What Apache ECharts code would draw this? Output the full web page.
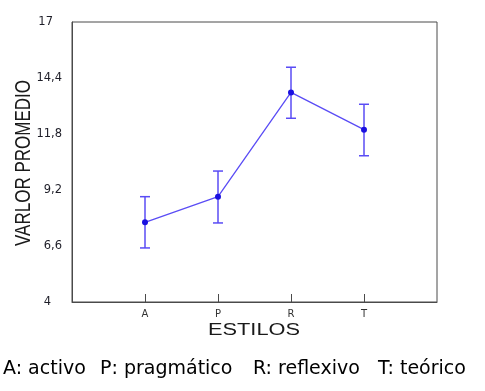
<!DOCTYPE html>
<html>
<head>
<meta charset="utf-8">
<script src="https://cdn.jsdelivr.net/npm/echarts@6/dist/echarts.min.js"></script>
<style>html,body{margin:0;padding:0;background:#fff}#c{width:485px;height:391px}</style>
</head>
<body>
<div id="c"></div>
<script>
const categories = ['A', 'P', 'R', 'T'];
const means = [7.70, 8.89, 13.73, 12.00];
const lower = [6.51, 7.67, 12.53, 10.79];
const upper = [8.89, 10.08, 14.90, 13.18];
const yTicks = [4, 6.6, 9.2, 11.8, 14.4, 17];
const legendItems = ['A: activo', 'P: pragmático', 'R: reflexivo', 'T: teórico'];
const legendX = [3, 100, 253, 378];

const padded = [''].concat(categories).concat(['']);
const lineData = ['-'].concat(means).concat(['-']);
const errData = categories.map((c, i) => [i + 1, lower[i], upper[i]]);

const lineColor = '#5a4cf5';
const axisColor = '#4a4a4a';

const chart = echarts.init(document.getElementById('c'), null, {renderer: 'canvas'});
chart.setOption({
  animation: false,
  grid: {left: 72, right: 48, top: 22, bottom: 89, show: true, borderColor: axisColor, borderWidth: 1, backgroundColor: 'transparent'},
  xAxis: {
    type: 'category',
    data: padded,
    boundaryGap: false,
    axisLine: {lineStyle: {color: axisColor, width: 1}},
    axisTick: {inside: true, length: 8, lineStyle: {color: axisColor}, interval: (i, v) => v !== ''},
    axisLabel: {fontFamily: 'DejaVu Sans', fontSize: 10, color: '#333', margin: 7, interval: (i, v) => v !== ''},
    splitLine: {show: false}
  },
  yAxis: {
    type: 'value',
    min: 4, max: 17,
    axisLine: {show: true, lineStyle: {color: axisColor, width: 1}},
    axisTick: {inside: true, length: 10, lineStyle: {color: axisColor}, customValues: yTicks},
    axisLabel: {fontFamily: 'DejaVu Sans', fontSize: 11.5, color: '#1e1e28', margin: 10, customValues: yTicks,
      formatter: v => {
        const s = String(v).replace('.', ',');
        if (v === 17) return '{p9|' + s + '}';
        if (v === 4) return '{p11|' + s + '}';
        return s;
      },
      rich: {
        p9: {fontFamily: 'DejaVu Sans', fontSize: 11.5, color: '#1e1e28', padding: [0, 9, 0, 0]},
        p11: {fontFamily: 'DejaVu Sans', fontSize: 11.5, color: '#1e1e28', padding: [0, 11, 0, 0]}
      }
    },
    splitLine: {show: false}
  },
  series: [
    {
      type: 'custom',
      data: errData,
      z: 2,
      renderItem: function (params, api) {
        const x = api.value(0);
        const lo = api.coord([x, api.value(1)]);
        const hi = api.coord([x, api.value(2)]);
        const w = 5;
        const st = {stroke: lineColor, lineWidth: 1.5};
        return {type: 'group', children: [
          {type: 'line', shape: {x1: lo[0], y1: lo[1], x2: hi[0], y2: hi[1]}, style: st},
          {type: 'line', shape: {x1: hi[0] - w, y1: hi[1], x2: hi[0] + w, y2: hi[1]}, style: st},
          {type: 'line', shape: {x1: lo[0] - w, y1: lo[1], x2: lo[0] + w, y2: lo[1]}, style: st}
        ]};
      }
    },
    {
      type: 'line',
      data: lineData,
      z: 3,
      symbol: 'circle',
      symbolSize: 6,
      lineStyle: {color: lineColor, width: 1.3},
      itemStyle: {color: '#1a10e0'}
    }
  ],
  graphic: [
    {type: 'text', x: 254, y: 330.5, scaleX: 1.36, style: {text: 'ESTILOS', fontFamily: 'Liberation Sans', fontSize: 16, fill: '#1a1a1a', align: 'center', verticalAlign: 'middle'}},
    {type: 'text', x: 24, y: 163, rotation: Math.PI / 2, scaleY: 1.3, style: {text: 'VARLOR PROMEDIO', fontFamily: 'Liberation Sans', fontSize: 17, fill: '#1a1a1a', align: 'center', verticalAlign: 'middle'}}
  ].concat(legendItems.map((t, i) => ({
    type: 'text', x: legendX[i], y: 369,
    style: {text: t, fontFamily: 'DejaVu Sans', fontSize: 19, fill: '#000', align: 'left', verticalAlign: 'middle'}
  })))
});
</script>
</body>
</html>
